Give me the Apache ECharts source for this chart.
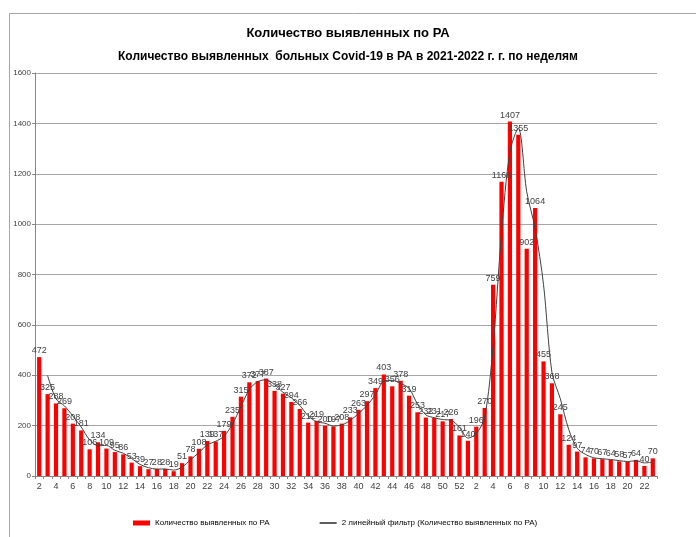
<!DOCTYPE html>
<html>
<head>
  <meta charset="utf-8"/>
  <title>Количество выявленных по РА</title>
  <style>
    html, body { margin: 0; padding: 0; background: #fff; }
    #chart { width: 696px; height: 537px; }
  </style>
</head>
<body>
<div id="chart"></div>
<script src="https://cdn.jsdelivr.net/npm/echarts@6/dist/echarts.min.js"></script>
<script type="text/javascript">
// недели: 2021 г. (2..52) и 2022 г. (1..23)
var weeks = [
  2, 3, 4, 5, 6, 7, 8, 9, 10, 11, 12, 13, 14, 15, 16, 17, 18, 19, 20, 21,
  22, 23, 24, 25, 26, 27, 28, 29, 30, 31, 32, 33, 34, 35, 36, 37, 38, 39, 40, 41,
  42, 43, 44, 45, 46, 47, 48, 49, 50, 51, 52,
  1, 2, 3, 4, 5, 6, 7, 8, 9, 10, 11, 12, 13, 14, 15, 16, 17, 18, 19, 20,
  21, 22, 23
];

// количество выявленных по неделям
var cases = [
  472, 325, 288, 269, 208, 181, 106, 134, 109, 95, 86, 53, 39, 27, 28, 28, 19, 51, 78, 108,
  139, 137, 179, 235, 315, 372, 377, 387, 338, 327, 294, 266, 212, 219, 200, 197, 208, 233, 263, 297,
  349, 403, 356, 378, 319, 253, 232, 231, 217, 226, 161,
  140, 196, 270, 759, 1168, 1407, 1355, 902, 1064, 455, 368, 245, 124, 97, 74, 70, 67, 64, 58, 57,
  64, 40, 70
];

// 2 линейный фильтр (скользящее среднее по 2 точкам, как в Excel)
var trend = [
  null, 398.5, 306.5, 278.5, 238.5, 194.5, 143.5, 120, 121.5, 102, 90.5, 69.5, 46, 33, 27.5, 28, 23.5, 35, 64.5, 93,
  123.5, 138, 158, 207, 275, 343.5, 374.5, 382, 362.5, 332.5, 310.5, 280, 239, 215.5, 209.5, 198.5, 202.5, 220.5, 248, 280,
  323, 376, 379.5, 367, 348.5, 286, 242.5, 231.5, 224, 221.5, 193.5,
  150.5, 168, 233, 514.5, 963.5, 1287.5, 1381, 1128.5, 983, 759.5, 411.5, 306.5, 184.5, 110.5, 85.5, 72, 68.5, 65.5, 61, 57.5,
  60.5, 52, 55
];

var yTicks = [0, 200, 400, 600, 800, 1000, 1200, 1400, 1600];

var chart = echarts.init(document.getElementById('chart'));
var textFont = '"Liberation Sans", Arial, sans-serif';

chart.setOption({
  animation: false,
  textStyle: { fontFamily: textFont },
  title: [
    {
      text: 'Количество выявленных по РА',
      left: 'center', top: 22,
      textStyle: { fontSize: 13, fontWeight: 'bold', color: '#000' }
    },
    {
      text: 'Количество выявленных  больных Covid-19 в РА в 2021-2022 г. г. по неделям',
      left: 'center', top: 46,
      textStyle: { fontSize: 12, fontWeight: 'bold', color: '#000' }
    }
  ],
  graphic: [{
    type: 'rect',
    shape: { x: 9.5, y: 13.5, width: 720, height: 560 },
    style: { fill: null, stroke: '#a6a6a6', lineWidth: 1 },
    silent: true
  }],
  legend: {
    bottom: 5,
    left: 128,
    itemGap: 50,
    itemWidth: 17,
    itemHeight: 5,
    textStyle: { fontSize: 8, color: '#000' },
    data: [
      { name: 'Количество выявленных по РА', icon: 'rect' },
      { name: '2 линейный фильтр (Количество выявленных по РА)', icon: 'path://M0,0 L10,0 L10,1 L0,1 Z' }
    ]
  },
  grid: { left: 35, right: 39, top: 73, bottom: 61, containLabel: false },
  xAxis: {
    type: 'category',
    data: weeks,
    boundaryGap: true,
    axisLine: { lineStyle: { color: '#868686' } },
    axisTick: { show: true, interval: 0, alignWithLabel: false, length: 3, lineStyle: { color: '#868686' } },
    axisLabel: { interval: 1, fontSize: 9, color: '#404040', margin: 6 }
  },
  yAxis: {
    type: 'value',
    min: yTicks[0],
    max: yTicks[yTicks.length - 1],
    interval: 200,
    axisLine: { show: true, lineStyle: { color: '#868686' } },
    axisTick: { show: true, length: 3, lineStyle: { color: '#868686' } },
    axisLabel: {
      fontSize: 8, color: '#404040', margin: 4,
      formatter: function (v) { return String(v); }
    },
    splitLine: { lineStyle: { color: '#a6a6a6', width: 1 } }
  },
  series: [
    {
      name: 'Количество выявленных по РА',
      type: 'bar',
      data: cases,
      barWidth: '50%',
      itemStyle: { color: '#ff0000' },
      label: {
        show: true,
        position: 'top',
        distance: 2,
        fontSize: 9,
        color: '#404040'
      }
    },
    {
      name: '2 линейный фильтр (Количество выявленных по РА)',
      type: 'line',
      data: trend,
      smooth: 0.3,
      showSymbol: false,
      symbol: 'none',
      lineStyle: { color: '#404040', width: 1 },
      itemStyle: { color: '#404040' },
      z: 3
    }
  ]
});
</script>
</body>
</html>
